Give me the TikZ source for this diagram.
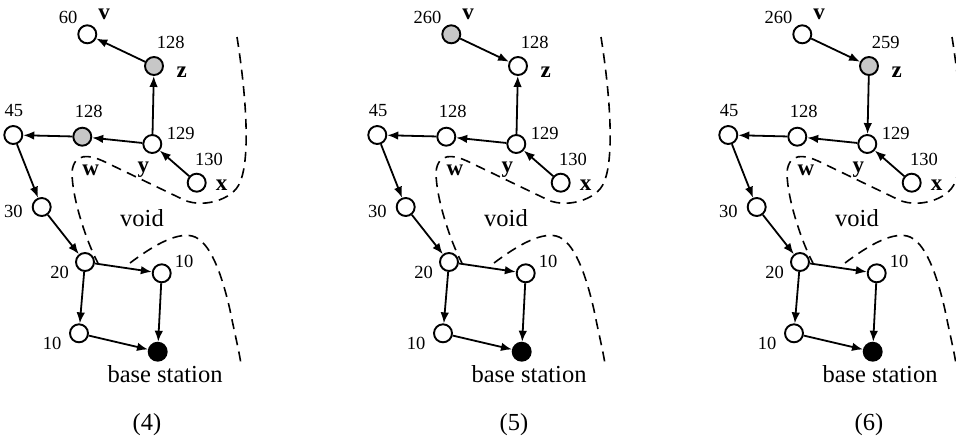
\documentclass[tikz,border=0pt]{standalone}
\usepackage{fontspec}
\setmainfont{Liberation Serif}
\usetikzlibrary{arrows.meta}
\definecolor{wgray}{gray}{0.78}

\tikzset{
  vert/.style={circle,draw,line width=1.9pt,minimum size=18pt,inner sep=0pt,fill=white},
  arr/.style={line width=1.8pt,-{Latex[length=11pt,width=8.5pt]}},
  bound/.style={line width=1.6pt,dash pattern=on 10pt off 6.5pt},
  num/.style={inner sep=0pt,font=\fontsize{18.5}{20}\selectfont},
  vname/.style={inner sep=0pt,font=\fontsize{23}{25}\selectfont\bfseries},
  txt/.style={inner sep=0pt,font=\fontsize{24.5}{26}\selectfont}
}

\begin{document}
\begin{tikzpicture}[x=1pt,y=-1pt]
  \useasboundingbox (0,0) rectangle (956,445);
  \clip (0,0) rectangle (956,445);

  % Panels (4), (5), (6)
  \foreach \p/\dx/\vl/\zl/\vc/\zc/\wc/\cx/\n in
    {a/0/60/128/white/wgray/wgray/147/4,
     b/364/260/128/wgray/white/white/150/5,
     c/715/260/259/white/wgray/white/154/6}
  {
  \begin{scope}[xshift=\dx pt]
    % Nodes
    \node[vert,fill=\vc] (\p-v)  at (87.3,34.3) {};
    \node[vert,fill=\zc] (\p-z)  at (154,66) {};
    \node[vert]          (\p-45) at (13.3,135) {};
    \node[vert,fill=\wc] (\p-w)  at (82.3,136.7) {};
    \node[vert]          (\p-y)  at (152.3,144) {};
    \node[vert]          (\p-x)  at (196.7,182.7) {};
    \node[vert]          (\p-30) at (41.7,207) {};
    \node[vert]          (\p-20) at (85,262) {};
    \node[vert]          (\p-10a) at (161.7,273.3) {};
    \node[vert]          (\p-10b) at (79,333.3) {};
    \node[vert,fill=black] (\p-bs) at (157.7,351.7) {};

    % Labels
    \node[num,anchor=east] (\p-vl) at (77.5,17.8) {\vl};
    \node[vname] (\p-vn)  at (104,14.7) {v};
    \node[num]   (\p-zl)  at (170.8,42.2) {\zl};
    \node[vname] (\p-zn)  at (181.7,72) {z};
    \node[num]   (\p-45l) at (14,110.5) {45};
    \node[num]   (\p-wl)  at (88.7,111) {128};
    \node[vname] (\p-wn)  at (90.8,170.5) {w};
    \node[num]   (\p-yl)  at (180.8,133) {129};
    \node[vname] (\p-yn)  at (143.3,170) {y};
    \node[num]   (\p-xl)  at (209,159.5) {130};
    \node[vname] (\p-xn)  at (221.7,185) {x};
    \node[num]   (\p-30l) at (13.3,211.5) {30};
    \node[num]   (\p-20l) at (59.7,272.5) {20};
    \node[num]   (\p-10al) at (184,261.7) {10};
    \node[num]   (\p-10bl) at (52,343.7) {10};
    \node[txt]   (\p-void) at (142,218.3) {void};
    \node[txt]   (\p-bsl) at (165,374) {base station};
    \node[txt]   (\p-cap) at (\cx,425) {(\n)};

    % Edges
    \draw[arr] (\p-w) -- (\p-45);
    \draw[arr] (\p-y) -- (\p-w);
    \draw[arr] (\p-x) -- (\p-y);
    \draw[arr] (\p-45) -- (\p-30);
    \draw[arr] (\p-30) -- (\p-20);
    \draw[arr] (\p-20) -- (\p-10a);
    \draw[arr] (\p-20) -- (\p-10b);
    \draw[arr] (\p-10a) -- (\p-bs);
    \draw[arr] (\p-10b) -- (\p-bs);

    % Void boundary
    \draw[bound] (237,37) .. controls (247,100) and (250,160) .. (240,182)
      .. controls (234,200) and (200,210) .. (180,198) -- (103,161)
      .. controls (90,155) and (74,152) .. (72,172)
      .. controls (72,200) and (88,245) .. (98,263);
    \draw[bound] (130,263) .. controls (150,248) and (175,232) .. (192,236)
      .. controls (210,240) and (222,275) .. (230,310)
      .. controls (235,335) and (240,355) .. (241,365);
  \end{scope}
  }

  % v -- z -- y
  \draw[arr] (a-z) -- (a-v);
  \draw[arr] (a-y) -- (a-z);
  \draw[arr] (b-v) -- (b-z);
  \draw[arr] (b-y) -- (b-z);
  \draw[arr] (c-v) -- (c-z);
  \draw[arr] (c-z) -- (c-y);
\end{tikzpicture}
\end{document}
